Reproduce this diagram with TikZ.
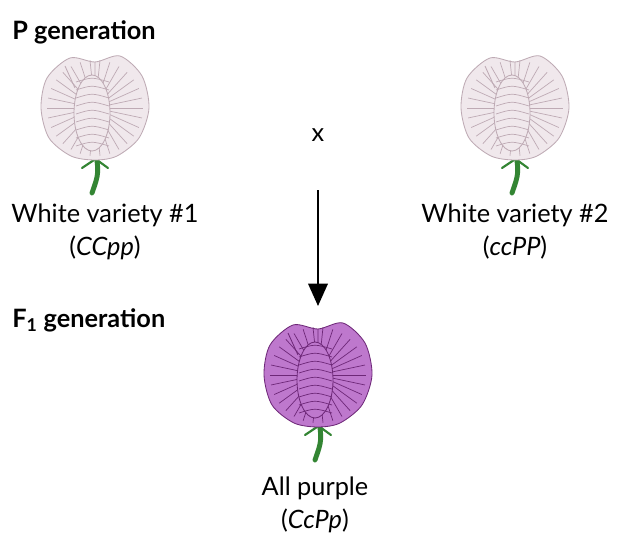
\documentclass[tikz,border=0pt]{standalone}
\usepackage{fontspec}
\setmainfont{Lato}
\usetikzlibrary{arrows.meta, positioning}
\definecolor{petalwhite}{RGB}{240,232,236}
\definecolor{veinwhite}{RGB}{190,170,180}
\definecolor{petalpurple}{RGB}{190,120,205}
\definecolor{veinpurple}{RGB}{110,40,120}
\tikzset{
  label/.style = {font=\fontsize{18}{21}\selectfont, align=center, inner sep=1pt},
  gen/.style = {font=\bfseries\fontsize{18}{21}\selectfont, anchor=west, inner sep=0pt},
  stem/.style = {line width=3.5pt, draw=green!40!black!80, line cap=round},
}
% flower: centre x, y, petal fill, vein colour
\newcommand{\flowerpic}[4]{%
  \draw[stem] (#1,#2+40) .. controls (#1+4,#2+65) .. (#1-3,#2+85);
  \draw[stem, line width=1.5pt] (#1-1,#2+52) -- (#1-13,#2+60);
  \draw[stem, line width=1.5pt] (#1+2,#2+52) -- (#1+13,#2+60);
  \filldraw[fill=#3, draw=#4, line width=0.6pt] plot[smooth cycle] coordinates {
    (#1-48,#2-30) (#1-25,#2-50) (#1,#2-46) (#1+25,#2-52) (#1+47,#2-32)
    (#1+54,#2) (#1+44,#2+30) (#1+22,#2+48) (#1,#2+52) (#1-24,#2+48)
    (#1-46,#2+30) (#1-54,#2)};
  \foreach \a in {0,12,...,348}
    \draw[#4, line width=0.5pt] (#1,#2)++(\a:14) -- ++(\a:34);
  \draw[#4, line width=0.6pt] (#1,#2-46) -- (#1,#2-20) (#1-30,#2-42) -- (#1-20,#2-20);
  \filldraw[fill=#3, draw=#4, line width=0.6pt] (#1-3,#2+5) ellipse (18 and 38);
  \foreach \k in {-26,-18,...,38}
    \draw[#4, line width=0.5pt] (#1-19,#2+\k) .. controls (#1-3,#2+\k-5) .. (#1+14,#2+\k);
}
\begin{document}
\begin{tikzpicture}[x=0.025cm, y=-0.025cm]
  \useasboundingbox[fill=white] (0,0) rectangle (638,558);
  \node[gen] (pgen) at (12,32) {P generation};
  \node[gen] (fgen) at (12,320) {F\textsubscript{1} generation};
  \flowerpic{95}{108}{petalwhite}{veinwhite}
  \flowerpic{515}{108}{petalwhite}{veinwhite}
  \flowerpic{318}{375}{petalpurple}{veinpurple}
  \node[label] (white1) at (105,215) {White variety \#1};
  \node[label, below=4pt of white1] (geno1) {(\textit{CCpp})};
  \node[label] (white2) at (515,215) {White variety \#2};
  \node[label, below=4pt of white2] (geno2) {(\textit{ccPP})};
  \node[label] (cross) at (318,135) {x};
  \coordinate (arrtop) at (318,190);
  \coordinate (arrend) at (318,306);
  \draw[-{Triangle[length=16pt, width=14pt]}, line width=1.3pt] (arrtop) -- (arrend);
  \node[label] (purple) at (315,488) {All purple};
  \node[label, below=4pt of purple] (geno3) {(\textit{CcPp})};
\end{tikzpicture}
\end{document}
